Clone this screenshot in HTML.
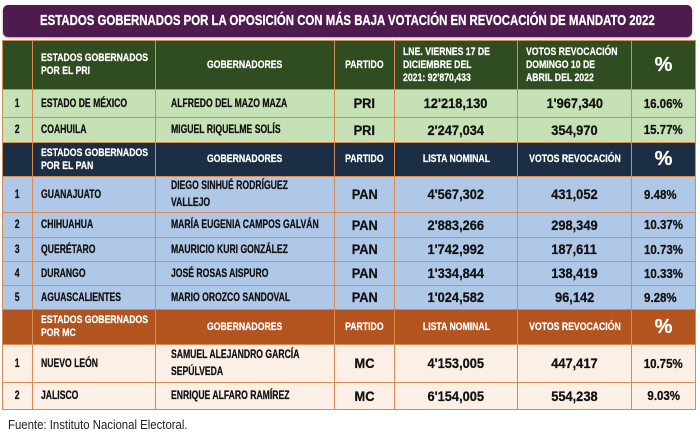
<!DOCTYPE html>
<html><head><meta charset="utf-8">
<style>
*{margin:0;padding:0;box-sizing:border-box}
html,body{width:700px;height:439px;background:#fff;overflow:hidden}
body{position:relative;font-family:"Liberation Sans",sans-serif;font-weight:bold;color:#111}
.title{position:absolute;left:3px;top:5px;width:689px;height:32px;background:#4f1b4f;border-radius:5px;box-shadow:0 1px 2px rgba(0,0,0,.4);color:#fff;font-size:15px;line-height:32px;display:flex;justify-content:center;white-space:nowrap;-webkit-text-stroke:0.3px #fff}
.title span{display:inline-block;transform:scaleX(.76);transform-origin:center}
table{position:absolute;left:2px;top:40px;width:693px;border-collapse:collapse;table-layout:fixed}
td{border:1.5px solid #d98a52;font-size:11.5px;vertical-align:middle;overflow:hidden;white-space:nowrap;-webkit-text-stroke:0.25px currentColor}
tr.hg td{background:#2f4d20;color:#fff}
tr.hn td{background:#1c2e43;color:#fff}
tr.ho td{background:#b3541f;color:#fff}
tr.g td{background:#c6e1b5}
tr.b td{background:#b0c8e8}
tr.o td{background:#fcefe5}
.f{display:flex;justify-content:center;align-items:center}
.t{display:inline-block;transform:scaleX(.75);transform-origin:left center}
.f .t{transform-origin:center}
.h{font-size:11px;line-height:13px}
.h .t{transform:scaleX(.79)}
.l{padding-left:8px}
.gv{padding-left:15px}
.n{font-size:13.5px}
.n .t{transform:scaleX(.95)}
.pc{font-size:20px}
.pc .t{transform:none}
.p{font-size:12.5px}
.p .t{transform:scaleX(.92)}
.pl{font-size:12.5px;padding-left:12px}
.pl .t{transform:scaleX(.92)}
.foot{position:absolute;left:8px;top:418px;font-size:12.5px;font-weight:normal;color:#222;white-space:nowrap;transform:scaleX(.91);transform-origin:left center}
</style></head><body>
<div class="title"><span>ESTADOS GOBERNADOS POR LA OPOSICIÓN CON MÁS BAJA VOTACIÓN EN REVOCACIÓN DE MANDATO 2022</span></div>
<table>
<colgroup><col style="width:30px"><col style="width:123px"><col style="width:179px"><col style="width:60px"><col style="width:123px"><col style="width:114px"><col style="width:64px"></colgroup>
<tr class="hg" style="height:49px"><td></td><td class="h l"><span class="t">ESTADOS GOBERNADOS<br>POR EL PRI</span></td><td class="h"><div class="f"><span class="t">GOBERNADORES</span></div></td><td class="h"><div class="f"><span class="t">PARTIDO</span></div></td><td class="h l"><span class="t">LNE. VIERNES 17 DE<br>DICIEMBRE DEL<br>2021: 92'870,433</span></td><td class="h l"><span class="t">VOTOS REVOCACIÓN<br>DOMINGO 10 DE<br>ABRIL DEL 2022</span></td><td class="pc"><div class="f"><span class="t">%</span></div></td></tr>
<tr class="g" style="height:28px"><td><div class="f"><span class="t">1</span></div></td><td class="l"><span class="t">ESTADO DE MÉXICO</span></td><td class="gv"><span class="t">ALFREDO DEL MAZO MAZA</span></td><td class="n"><div class="f"><span class="t">PRI</span></div></td><td class="n"><div class="f"><span class="t">12'218,130</span></div></td><td class="n"><div class="f"><span class="t">1'967,340</span></div></td><td class="p"><div class="f"><span class="t">16.06%</span></div></td></tr>
<tr class="g" style="height:25px"><td><div class="f"><span class="t">2</span></div></td><td class="l"><span class="t">COAHUILA</span></td><td class="gv"><span class="t">MIGUEL RIQUELME SOLÍS</span></td><td class="n"><div class="f"><span class="t">PRI</span></div></td><td class="n"><div class="f"><span class="t">2'247,034</span></div></td><td class="n"><div class="f"><span class="t">354,970</span></div></td><td class="p"><div class="f"><span class="t">15.77%</span></div></td></tr>
<tr class="hn" style="height:34px"><td></td><td class="h l"><span class="t">ESTADOS GOBERNADOS<br>POR EL PAN</span></td><td class="h"><div class="f"><span class="t">GOBERNADORES</span></div></td><td class="h"><div class="f"><span class="t">PARTIDO</span></div></td><td class="h"><div class="f"><span class="t">LISTA NOMINAL</span></div></td><td class="h"><div class="f"><span class="t">VOTOS REVOCACIÓN</span></div></td><td class="pc"><div class="f"><span class="t">%</span></div></td></tr>
<tr class="b" style="height:36px"><td><div class="f"><span class="t">1</span></div></td><td class="l"><span class="t">GUANAJUATO</span></td><td class="gv" style="line-height:17px"><span class="t">DIEGO SINHUÉ RODRÍGUEZ<br>VALLEJO</span></td><td class="n"><div class="f"><span class="t">PAN</span></div></td><td class="n"><div class="f"><span class="t">4'567,302</span></div></td><td class="n"><div class="f"><span class="t">431,052</span></div></td><td class="pl"><span class="t">9.48%</span></td></tr>
<tr class="b" style="height:25px"><td><div class="f"><span class="t">2</span></div></td><td class="l"><span class="t">CHIHUAHUA</span></td><td class="gv"><span class="t">MARÍA EUGENIA CAMPOS GALVÁN</span></td><td class="n"><div class="f"><span class="t">PAN</span></div></td><td class="n"><div class="f"><span class="t">2'883,266</span></div></td><td class="n"><div class="f"><span class="t">298,349</span></div></td><td class="pl"><span class="t">10.37%</span></td></tr>
<tr class="b" style="height:24px"><td><div class="f"><span class="t">3</span></div></td><td class="l"><span class="t">QUERÉTARO</span></td><td class="gv"><span class="t">MAURICIO KURI GONZÁLEZ</span></td><td class="n"><div class="f"><span class="t">PAN</span></div></td><td class="n"><div class="f"><span class="t">1'742,992</span></div></td><td class="n"><div class="f"><span class="t">187,611</span></div></td><td class="pl"><span class="t">10.73%</span></td></tr>
<tr class="b" style="height:24px"><td><div class="f"><span class="t">4</span></div></td><td class="l"><span class="t">DURANGO</span></td><td class="gv"><span class="t">JOSÉ ROSAS AISPURO</span></td><td class="n"><div class="f"><span class="t">PAN</span></div></td><td class="n"><div class="f"><span class="t">1'334,844</span></div></td><td class="n"><div class="f"><span class="t">138,419</span></div></td><td class="pl"><span class="t">10.33%</span></td></tr>
<tr class="b" style="height:24px"><td><div class="f"><span class="t">5</span></div></td><td class="l"><span class="t">AGUASCALIENTES</span></td><td class="gv"><span class="t">MARIO OROZCO SANDOVAL</span></td><td class="n"><div class="f"><span class="t">PAN</span></div></td><td class="n"><div class="f"><span class="t">1'024,582</span></div></td><td class="n"><div class="f"><span class="t">96,142</span></div></td><td class="pl"><span class="t">9.28%</span></td></tr>
<tr class="ho" style="height:35px"><td></td><td class="h l"><span class="t">ESTADOS GOBERNADOS<br>POR MC</span></td><td class="h"><div class="f"><span class="t">GOBERNADORES</span></div></td><td class="h"><div class="f"><span class="t">PARTIDO</span></div></td><td class="h"><div class="f"><span class="t">LISTA NOMINAL</span></div></td><td class="h"><div class="f"><span class="t">VOTOS REVOCACIÓN</span></div></td><td class="pc"><div class="f"><span class="t">%</span></div></td></tr>
<tr class="o" style="height:38px"><td><div class="f"><span class="t">1</span></div></td><td class="l"><span class="t">NUEVO LEÓN</span></td><td class="gv" style="line-height:17px"><span class="t">SAMUEL ALEJANDRO GARCÍA<br>SEPÚLVEDA</span></td><td class="n"><div class="f"><span class="t">MC</span></div></td><td class="n"><div class="f"><span class="t">4'153,005</span></div></td><td class="n"><div class="f"><span class="t">447,417</span></div></td><td class="p"><div class="f"><span class="t">10.75%</span></div></td></tr>
<tr class="o" style="height:27px"><td><div class="f"><span class="t">2</span></div></td><td class="l"><span class="t">JALISCO</span></td><td class="gv"><span class="t">ENRIQUE ALFARO RAMÍREZ</span></td><td class="n"><div class="f"><span class="t">MC</span></div></td><td class="n"><div class="f"><span class="t">6'154,005</span></div></td><td class="n"><div class="f"><span class="t">554,238</span></div></td><td class="p"><div class="f"><span class="t">9.03%</span></div></td></tr>
</table>
<div class="foot">Fuente: Instituto Nacional Electoral.</div>
</body></html>
